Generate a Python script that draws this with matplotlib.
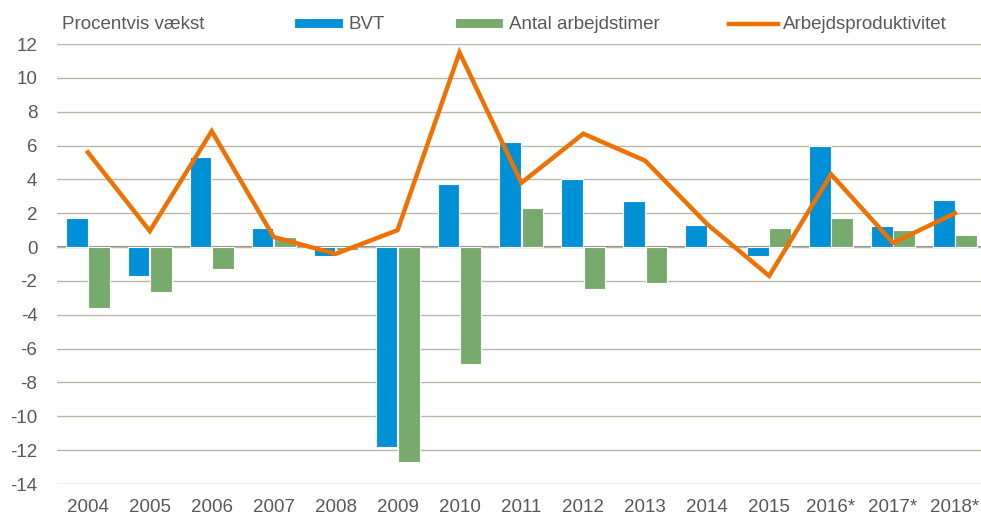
import matplotlib
matplotlib.use("Agg")
import matplotlib.pyplot as plt
import numpy as np
from matplotlib import font_manager

years = ["2004", "2005", "2006", "2007", "2008", "2009", "2010", "2011",
         "2012", "2013", "2014", "2015", "2016*", "2017*", "2018*"]
bvt = [1.7, -1.7, 5.3, 1.1, -0.55, -11.8, 3.7, 6.2, 4.0, 2.7, 1.3, -0.5, 6.0, 1.25, 2.8]
timer = [-3.6, -2.65, -1.3, 0.6, -0.2, -12.7, -6.9, 2.3, -2.5, -2.1, 0.0, 1.1, 1.7, 1.0, 0.7]
produktivitet = [5.6, 0.95, 6.85, 0.6, -0.4, 1.0, 11.5, 3.8, 6.7, 5.1, 1.35, -1.7, 4.3, 0.25, 2.0]
yticks = list(range(-14, 13, 2))

names = {f.name for f in font_manager.fontManager.ttflist}
fam = "Liberation Sans Narrow" if "Liberation Sans Narrow" in names else "Liberation Sans"
plt.rcParams["font.family"] = [fam, "DejaVu Sans"]

txt = "#595959"
blue = "#0090D6"
green = "#78AA6E"
orange = "#EE7203"

fig = plt.figure(figsize=(9.81, 5.18), dpi=100)
ax = fig.add_axes([0.058, 0.0656, 0.942, 0.8494])

x = np.arange(len(years))
w = 0.35
b1 = ax.bar(x - 0.18, bvt, width=w, color=blue, edgecolor="white", linewidth=0.8, label="BVT", zorder=2)
b2 = ax.bar(x + 0.18, timer, width=w, color=green, edgecolor="white", linewidth=0.8, label="Antal arbejdstimer", zorder=2)
l1, = ax.plot(x, produktivitet, color=orange, linewidth=3.2, label="Arbejdsproduktivitet", zorder=3,
              solid_joinstyle="miter")

ax.set_xlim(-0.5, 14.42)
ax.set_ylim(-14, 12)
ax.set_yticks(yticks)
ax.set_yticklabels([str(v) for v in yticks])
ax.set_xticks(x)
ax.set_xticklabels(years)
ax.grid(axis="y", color="#B8B8A8", linewidth=1.0, zorder=0)
ax.axhline(0, color="#8C8C80", linewidth=1.5, zorder=1)
for s in ax.spines.values():
    s.set_visible(False)
ax.tick_params(axis="both", length=0, labelsize=13.5, labelcolor=txt)
ax.tick_params(axis="y", pad=14)
ax.tick_params(axis="x", pad=11)

fig.text(0.063, 0.952, "Procentvis vækst", fontsize=13.5, color=txt, va="center", ha="left")

leg = ax.legend([b1, b2, l1], ["BVT", "Antal arbejdstimer", "Arbejdsproduktivitet"],
                loc="center left", bbox_to_anchor=(0.257, 1.0435), ncol=3, frameon=False,
                fontsize=13.5, labelcolor=txt, handlelength=2.6, handleheight=0.45,
                columnspacing=3.7, handletextpad=0.3, borderaxespad=0, borderpad=0)

fig.savefig("out.png", dpi=100, facecolor="white")
